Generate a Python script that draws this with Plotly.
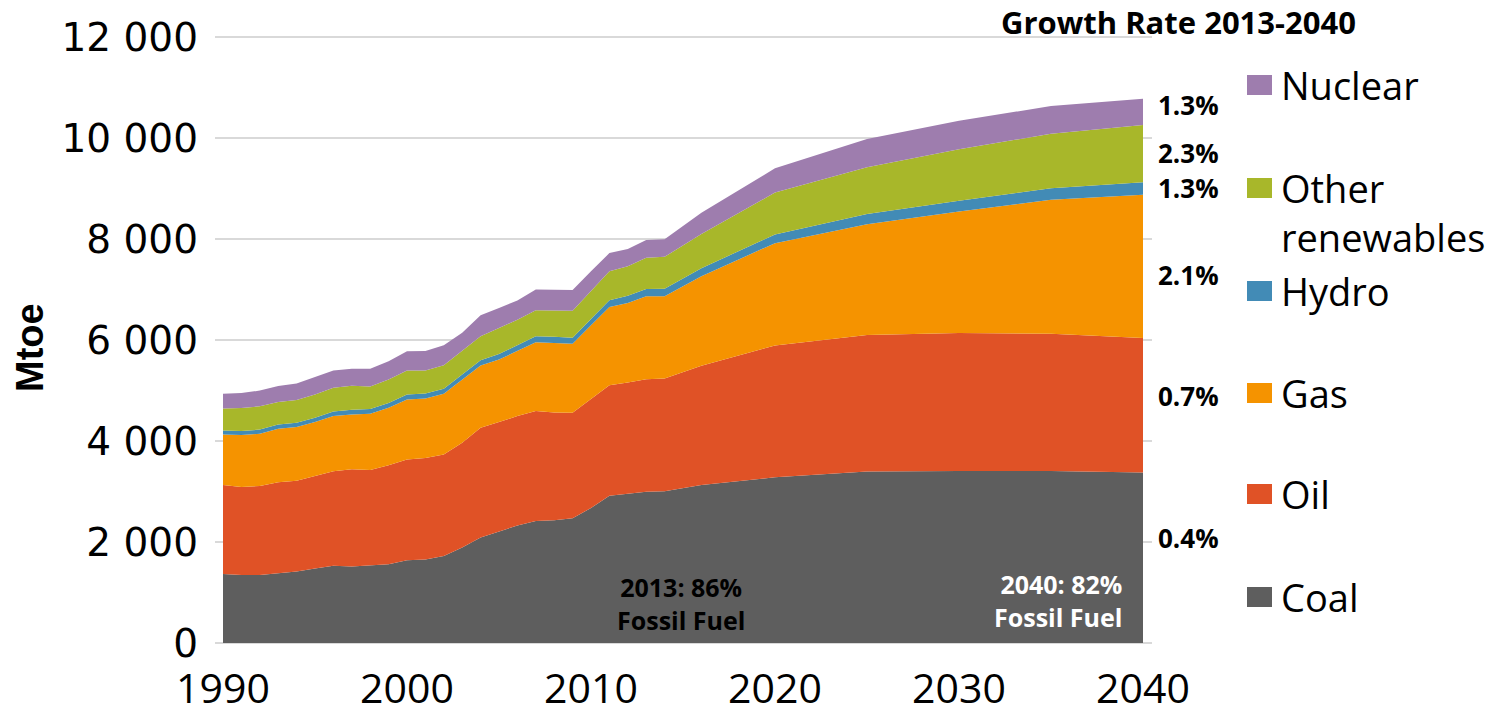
import plotly.graph_objects as go

# ---------------- data (Mtoe) ----------------
years = list(range(1990, 2015)) + [2016, 2020, 2025, 2030, 2035, 2040]

coal = [1364, 1344, 1344, 1383, 1417, 1476, 1528, 1515, 1535, 1561,
        1640, 1653, 1725, 1891, 2088, 2207, 2326, 2417, 2431, 2469,
        2673, 2917, 2950, 2996, 3004, 3129, 3280, 3394, 3406, 3406, 3374]
oil = [1765, 1745, 1765, 1799, 1798, 1830, 1871, 1924, 1890, 1957,
       1996, 2010, 2010, 2075, 2174, 2167, 2167, 2175, 2134, 2091,
       2167, 2188, 2210, 2229, 2236, 2362, 2610, 2706, 2731, 2716, 2666]
gas = [1001, 1028, 1035, 1061, 1060, 1068, 1094, 1087, 1114, 1140,
       1186, 1179, 1199, 1251, 1232, 1239, 1284, 1363, 1377, 1365,
       1450, 1548, 1573, 1639, 1624, 1772, 2028, 2194, 2407, 2653, 2834]
hydro = [80, 80, 82, 84, 85, 87, 90, 92, 94, 96,
         98, 98, 100, 102, 106, 110, 113, 118, 120, 122,
         128, 135, 142, 148, 150, 160, 170, 200, 215, 232, 250]
other_renewables = [434, 455, 462, 445, 450, 460, 470, 478, 445, 463,
                    475, 458, 466, 460, 473, 516, 513, 514, 519, 533,
                    552, 574, 586, 615, 633, 677, 831, 926, 1017, 1078, 1133]
nuclear = [290, 296, 310, 317, 329, 349, 342, 336, 355, 362,
           382, 382, 396, 363, 416, 395, 380, 413, 419, 410,
           390, 359, 341, 353, 347, 419, 481, 560, 565, 548, 522]

series_names = ["Coal", "Oil", "Gas", "Hydro", "Other renewables", "Nuclear"]
series_values = [coal, oil, gas, hydro, other_renewables, nuclear]
series_colors = ["#5E5E5E", "#E05226", "#F59300", "#428BB6", "#A8B72A", "#9E7DAE"]

growth_rates = ["0.4%", "0.7%", "2.1%", "1.3%", "2.3%", "1.3%"]   # coal..nuclear
legend_labels = ["Coal", "Oil", "Gas", "Hydro", "Other<br>renewables", "Nuclear"]

x_ticks = [1990, 2000, 2010, 2020, 2030, 2040]
y_ticks = [0, 2000, 4000, 6000, 8000, 10000, 12000]

# ---------------- layout geometry (screen pixels, body margin removed) ----------------
W, H = 1496, 717
L, T = 215, 36
R = W - 1152
B = H - 644
PW, PH = W - L - R, H - T - B


def px_x(px):
    return (px - L) / PW


def px_y(py):
    return (H - B - py) / PH


FONT = "Open Sans"

fig = go.Figure()
for name, vals, col in zip(series_names, series_values, series_colors):
    fig.add_trace(go.Scatter(
        x=years, y=vals, name=name, mode="lines", stackgroup="one",
        line=dict(width=0, color=col), fillcolor=col,
        hovertemplate=name + ": %{y}<extra></extra>",
    ))

annotations = []
shapes = []

# Y axis title
annotations.append(dict(
    text="<b>Mtoe</b>", x=px_x(30), y=px_y(348), xref="paper", yref="paper",
    showarrow=False, textangle=-90, xanchor="center", yanchor="middle",
    font=dict(family="Liberation Sans", size=38, color="black"),
))

# Growth header
annotations.append(dict(
    text="<b>Growth Rate 2013-2040</b>", x=px_x(1178), y=px_y(22),
    xref="paper", yref="paper", showarrow=False,
    xanchor="center", yanchor="middle",
    font=dict(family=FONT, size=31, color="black"),
))

# Growth labels (coal..nuclear)
growth_y_px = [538, 396, 275, 188, 153, 105]
for txt, py in zip(growth_rates, growth_y_px):
    annotations.append(dict(
        text="<b>" + txt + "</b>", x=px_x(1156), y=px_y(py),
        xref="paper", yref="paper", showarrow=False,
        xanchor="left", yanchor="middle",
        font=dict(family=FONT, size=26, color="black"),
    ))

# Manual legend (coal..nuclear)
legend_y_px = [597, 494, 393, 291, 188, 85]
for lab, col, py in zip(legend_labels, series_colors, legend_y_px):
    shapes.append(dict(
        type="rect", xref="paper", yref="paper",
        x0=px_x(1247), x1=px_x(1272), y0=px_y(py + 10), y1=px_y(py - 10),
        fillcolor=col, line=dict(width=0),
    ))
    two = "<br>" in lab
    annotations.append(dict(
        text=lab, x=px_x(1279), y=px_y(py + 25 if two else py),
        xref="paper", yref="paper", showarrow=False,
        xanchor="left", yanchor="middle", align="left",
        font=dict(family=FONT, size=38, color="black"),
    ))

# Fossil fuel notes
annotations.append(dict(
    text="<b>2013: 86%<br>Fossil Fuel</b>", x=px_x(681), y=px_y(603),
    xref="paper", yref="paper", showarrow=False,
    xanchor="center", yanchor="middle", align="center",
    font=dict(family=FONT, size=25, color="black"),
))
annotations.append(dict(
    text="<b>2040: 82%<br>Fossil Fuel</b>", x=px_x(1124), y=px_y(600),
    xref="paper", yref="paper", showarrow=False,
    xanchor="right", yanchor="middle", align="right",
    font=dict(family=FONT, size=25, color="white"),
))

fig.update_layout(
    width=W, height=H, autosize=False,
    margin=dict(l=L, r=R, t=T, b=B, pad=0, autoexpand=False),
    paper_bgcolor="white", plot_bgcolor="white",
    showlegend=False,
    separators=". ",
    annotations=annotations,
    shapes=shapes,
    xaxis=dict(
        range=[1989.565, 2040.489], tickvals=x_ticks, showgrid=False,
        zeroline=False, showline=False, ticks="", automargin=False,
        tickfont=dict(family=FONT, size=41, color="black"),
        ticklabelstandoff=17, ticklabeloverflow="allow",
    ),
    yaxis=dict(
        range=[-20, 12020], tickvals=y_ticks, tickformat=",d",
        showgrid=True, gridcolor="#D9D9D9", gridwidth=2,
        zeroline=False, showline=False, ticks="", automargin=False,
        tickfont=dict(family="DejaVu Sans", size=39, color="black"),
        ticklabelstandoff=16, ticklabeloverflow="allow",
    ),
)

fig.write_html(
    "out.html",
    config={"displayModeBar": False},
    post_script="document.body.style.margin='0';document.body.style.overflow='hidden';",
)
